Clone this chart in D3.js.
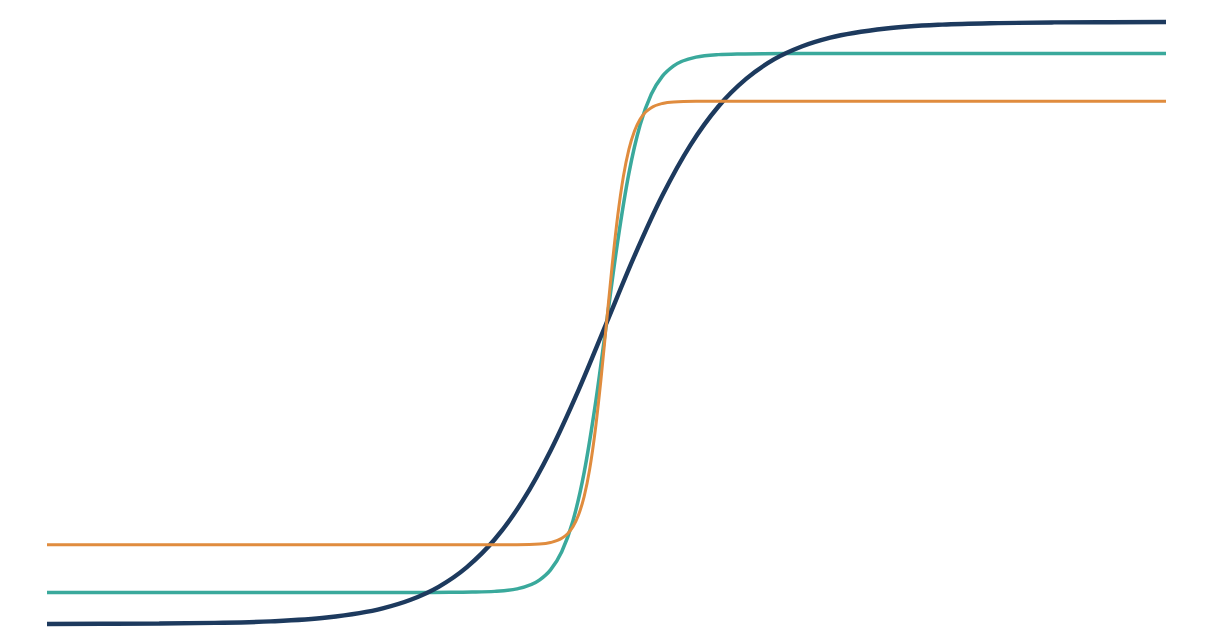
<!DOCTYPE html>
<html>
<head>
<meta charset="utf-8">
<script src="https://cdn.jsdelivr.net/npm/d3@7"></script>
<style>
  html, body { margin: 0; padding: 0; background: #ffffff; }
  svg { display: block; }
</style>
</head>
<body>
<svg id="chart" width="1213" height="636"></svg>
<script>
// Series values (x and y in 0–100 units)
const navyX = [0, 5, 10, 15, 20, 25, 30, 32.5, 35, 37.5, 40, 42.5, 45, 47.5, 50, 52.5, 55, 57.5, 60, 62.5, 65, 67.5, 70, 75, 80, 85, 90, 95, 100];
const navyY = [0.01, 0.03, 0.07, 0.18, 0.43, 1.07, 2.60, 4.03, 6.18, 9.41, 14.03, 20.44, 28.79, 38.86, 50, 61.14, 71.21, 79.56, 85.97, 90.59, 93.82, 95.97, 97.40, 98.93, 99.57, 99.82, 99.93, 99.97, 99.99];

const tealX = [0, 30, 34, 36, 38, 40, 42, 44, 45, 46, 47, 48, 49, 50, 51, 52, 53, 54, 55, 56, 58, 60, 62, 64, 66, 70, 100];
const tealY = [5.25, 5.25, 5.25, 5.26, 5.30, 5.42, 5.84, 7.29, 9.0, 12.01, 17.12, 25.15, 36.44, 50, 63.56, 74.85, 82.88, 87.99, 91.0, 92.71, 94.16, 94.58, 94.70, 94.74, 94.75, 94.75, 94.75];

const orangeX = [0, 40, 42, 44, 45, 46, 46.5, 47, 47.5, 48, 48.5, 49, 49.5, 50, 50.5, 51, 51.5, 52, 52.5, 53, 53.5, 54, 55, 56, 58, 60, 100];
const orangeY = [13.15, 13.15, 13.17, 13.28, 13.53, 14.23, 14.96, 16.16, 18.11, 21.16, 25.76, 32.23, 40.53, 50, 59.47, 67.77, 74.24, 78.84, 81.89, 83.84, 85.04, 85.77, 86.47, 86.72, 86.83, 86.85, 86.85];

const seriesNames = ["teal", "navy", "orange"];
const seriesColors = { navy: "#1d3a5e", teal: "#3aa99c", orange: "#e08c3e" };
const seriesWidths = { navy: 4.4, teal: 3.5, orange: 3 };
const seriesData = {
  navy: navyX.map((x, i) => [x, navyY[i]]),
  teal: tealX.map((x, i) => [x, tealY[i]]),
  orange: orangeX.map((x, i) => [x, orangeY[i]])
};

const svg = d3.select("#chart");
const x = d3.scaleLinear().domain([0, 100]).range([47, 1166]);
const y = d3.scaleLinear().domain([0, 100]).range([624, 22]);

const line = d3.line()
  .x(d => x(d[0]))
  .y(d => y(d[1]))
  .curve(d3.curveMonotoneX);

svg.selectAll("path.series")
  .data(seriesNames)
  .join("path")
  .attr("class", "series")
  .attr("d", n => line(seriesData[n]))
  .attr("fill", "none")
  .attr("stroke", n => seriesColors[n])
  .attr("stroke-width", n => seriesWidths[n])
  .attr("stroke-linejoin", "round");
</script>
</body>
</html>
